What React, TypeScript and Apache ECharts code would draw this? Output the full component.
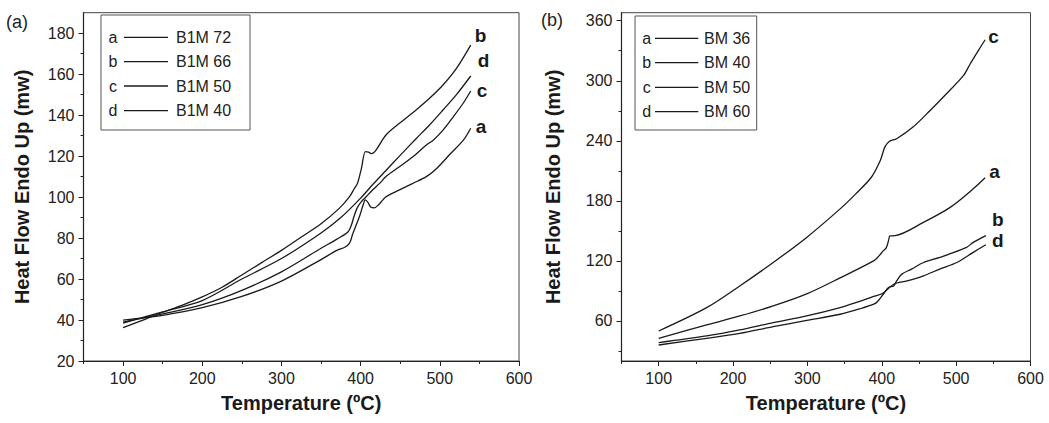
import React, { useEffect, useRef } from "react";
import * as echarts from "echarts";

// ---------- Panel (a) data: [Temperature (ºC), Heat Flow (mw)] ----------
const B1M72 = [[100,40],[150,42.3],[200,46],[250,51.5],[300,59],[350,69.5],[370,74],[380,75.5],[386,77.5],[390,82],[395,87],[399,91],[403,96],[406,98.6],[409,97.5],[413,95],[417,94.7],[422,96],[426,97.7],[432,100.2],[449,103.5],[466,106.7],[483,110],[496,114],[513,121],[530,127.9],[539,133.6]];
const B1M66 = [[100,36.3],[125,40],[150,43.8],[175,47.3],[200,51.3],[225,56],[250,62],[275,68],[300,74],[325,80.5],[350,87],[373,94.5],[386,100.2],[392,104.2],[396,106.7],[401,114],[406,122.2],[410,122],[413,121.2],[418,122.2],[432,130.3],[449,136],[470,142.5],[487,148.2],[504,154.7],[521,162.8],[539,174.2]];
const B1M50 = [[100,39],[150,43],[200,47.5],[250,54.5],[300,63.5],[350,75],[370,79.5],[384,83],[388,86],[392,91],[396,95],[400.7,97.7],[407,100.2],[415,103.5],[424,106.7],[432,110],[449,114.8],[466,119.7],[483,125.4],[492,127.9],[504,132.7],[517,139.2],[529.5,145.8],[539,151.8]];
const B1M40 = [[100,38.5],[150,44],[200,49.5],[250,60],[300,70],[350,82.5],[375,90],[400,99.5],[415,106],[432,113],[449,120],[470,128.5],[487,135.2],[504,142.5],[521,150],[539,159.1]];

// ---------- Panel (b) data ----------
const BM36 = [[100,42.7],[164.5,56],[209,65],[254,75],[299,87],[344,103],[389,120],[395,124],[402,130],[406,133],[409,140],[411,145],[418,145.2],[456,158.5],[492,173.5],[523,192],[539,203]];
const BM40 = [[100,36],[164.5,42.7],[209,47.5],[254,54.3],[299,60.5],[344,66.7],[370,72],[390,77],[395,80],[402,86.7],[409,93.4],[416,95],[420,100],[427,106.8],[440,111.8],[456,118.4],[478,123.5],[514,133.5],[523,138.5],[540,145.2]];
const BM50 = [[100,50],[164.5,73.3],[209,95],[254,118.4],[299,143.5],[344,172],[365,187],[386,203.6],[398,220.3],[404,233.7],[410,239.4],[420,242.1],[442,253.7],[465,270.3],[487,287],[510,305.3],[519,317],[530,330.4],[539,341]];
const BM60 = [[100,38.3],[164.5,45],[209,51],[254,58.3],[299,65],[344,73.3],[366,78.5],[389,84.5],[402,88],[416,96.7],[434,100],[456,105.1],[478,111.8],[501,118.4],[523,128.5],[540,136.2]];

// ---------- Ticks ----------
const xMajor = [100, 200, 300, 400, 500, 600];
const xMinor = [50, 150, 250, 350, 450, 550];
const yMajorA = [20, 40, 60, 80, 100, 120, 140, 160, 180];
const yMinorA = [30, 50, 70, 90, 110, 130, 150, 170];
const yMajorB = [60, 120, 180, 240, 300, 360];
const yMinorB = [30, 90, 150, 210, 270, 330];

const legendA = ["B1M 72", "B1M 66", "B1M 50", "B1M 40"];
const legendB = ["BM 36", "BM 40", "BM 50", "BM 60"];
const letters = ["a", "b", "c", "d"];

const FONT = "'Liberation Sans', Arial, sans-serif";
const INK = "#1a1a1a";

export default function App() {
  const ref = useRef<HTMLDivElement>(null);
  useEffect(() => {
    if (!ref.current) return;
    const chart = echarts.init(ref.current, null, { renderer: "svg" });

    const majorX = (gridIndex: number) => ({
      type: "value", gridIndex, min: 50, max: 600, position: "bottom",
      axisLine: { show: true, lineStyle: { color: "#222", width: 1.2 } },
      axisTick: { show: true, customValues: xMajor, length: 5, lineStyle: { color: "#222" } },
      axisLabel: { show: true, customValues: xMajor, fontSize: 16, color: "#222", fontFamily: FONT, margin: 9 },
      splitLine: { show: false },
      name: "Temperature (ºC)", nameLocation: "middle", nameGap: 32,
      nameTextStyle: { fontSize: 20, fontWeight: "bold", color: INK, fontFamily: FONT },
    });
    const minorX = (gridIndex: number) => ({
      type: "value", gridIndex, min: 50, max: 600, position: "bottom", offset: 0,
      axisLine: { show: false },
      axisTick: { show: true, customValues: xMinor, length: 3, lineStyle: { color: "#222" } },
      axisLabel: { show: false },
      splitLine: { show: false },
    });
    const majorY = (gridIndex: number, min: number, max: number, ticks: number[], gap: number) => ({
      type: "value", gridIndex, min, max, position: "left",
      axisLine: { show: true, lineStyle: { color: "#222", width: 1.2 } },
      axisTick: { show: true, customValues: ticks, length: 5, lineStyle: { color: "#222" } },
      axisLabel: { show: true, customValues: ticks, fontSize: 16, color: "#222", fontFamily: FONT, margin: 9 },
      splitLine: { show: false },
      name: "Heat Flow Endo Up (mw)", nameLocation: "middle", nameGap: gap,
      nameTextStyle: { fontSize: 20, fontWeight: "bold", color: INK, fontFamily: FONT },
    });
    const minorY = (gridIndex: number, min: number, max: number, ticks: number[]) => ({
      type: "value", gridIndex, min, max, position: "left", offset: 0,
      axisLine: { show: false },
      axisTick: { show: true, customValues: ticks, length: 3, lineStyle: { color: "#222" } },
      axisLabel: { show: false },
      splitLine: { show: false },
    });

    const labelOffsetsA = [[1, -2], [0, -10], [2, 0], [3, -16]];
    const labelOffsetsB = [[0, -6], [2, -16], [-1, -3], [2, -4]];

    const mkSeries = (data: number[][], letter: string, gi: number, off: number[]) => ({
      type: "line",
      xAxisIndex: gi * 2,
      yAxisIndex: gi * 2,
      symbol: "circle",
      symbolSize: 0,
      showSymbol: true,
      smooth: 0.3,
      lineStyle: { color: INK, width: 1.3 },
      itemStyle: { color: INK },
      silent: true,
      data: data.map((p, i) =>
        i === data.length - 1
          ? {
              value: p,
              label: {
                show: true, position: "right", distance: 4, offset: off, formatter: letter,
                fontSize: 19, fontWeight: "bold", color: INK, fontFamily: FONT,
              },
            }
          : { value: p }
      ),
    });

    const seriesA = [B1M72, B1M66, B1M50, B1M40].map((d, i) => mkSeries(d, letters[i], 0, labelOffsetsA[i]));
    const seriesB = [BM36, BM40, BM50, BM60].map((d, i) => mkSeries(d, letters[i], 1, labelOffsetsB[i]));

    const legendGraphic = (items: string[], box: number[], letterX: number, lineX0: number, lineX1: number, textX: number, rowsY: number[]) => {
      const children: any[] = [
        { type: "rect", shape: { x: box[0], y: box[1], width: box[2], height: box[3] }, style: { fill: "#fff", stroke: "#555", lineWidth: 1 } },
      ];
      items.forEach((name, i) => {
        children.push({ type: "text", x: letterX, y: rowsY[i], style: { text: letters[i], font: `16px ${FONT}`, fill: "#222", align: "center", verticalAlign: "middle" } });
        children.push({ type: "line", shape: { x1: lineX0, y1: rowsY[i], x2: lineX1, y2: rowsY[i] }, style: { stroke: INK, lineWidth: 1.3 } });
        children.push({ type: "text", x: textX, y: rowsY[i], style: { text: name, font: `16px ${FONT}`, fill: "#222", align: "left", verticalAlign: "middle" } });
      });
      return { type: "group", children };
    };

    chart.setOption({
      animation: false,
      backgroundColor: "#fff",
      grid: [
        { left: 83.5, right: 530, top: 12.7, bottom: 62, show: true, borderColor: "#444", borderWidth: 1, backgroundColor: "transparent" },
        { left: 621.5, right: 18.5, top: 12.7, bottom: 62, show: true, borderColor: "#444", borderWidth: 1, backgroundColor: "transparent" },
      ],
      xAxis: [majorX(0), minorX(0), majorX(1), minorX(1)],
      yAxis: [
        majorY(0, 20, 190, yMajorA, 52),
        minorY(0, 20, 190, yMinorA),
        majorY(1, 20, 368, yMajorB, 59),
        minorY(1, 20, 368, yMinorB),
      ],
      series: [...seriesA, ...seriesB],
      graphic: [
        legendGraphic(legendA, [101, 15, 149, 115], 113, 124, 168, 176, [37.3, 61.7, 86, 110.7]),
        legendGraphic(legendB, [635, 16, 121.7, 114], 646.7, 655, 698.3, 704, [38.3, 62.7, 87.3, 111.7]),
        { type: "text", x: 6, y: 22, style: { text: "(a)", font: `18px ${FONT}`, fill: "#222", verticalAlign: "middle" } },
        { type: "text", x: 541, y: 20, style: { text: "(b)", font: `18px ${FONT}`, fill: "#222", verticalAlign: "middle" } },
      ],
    });
    return () => chart.dispose();
  }, []);
  return <div ref={ref} style={{ position: "fixed", left: 0, top: 0, width: 1049, height: 423 }} />;
}
